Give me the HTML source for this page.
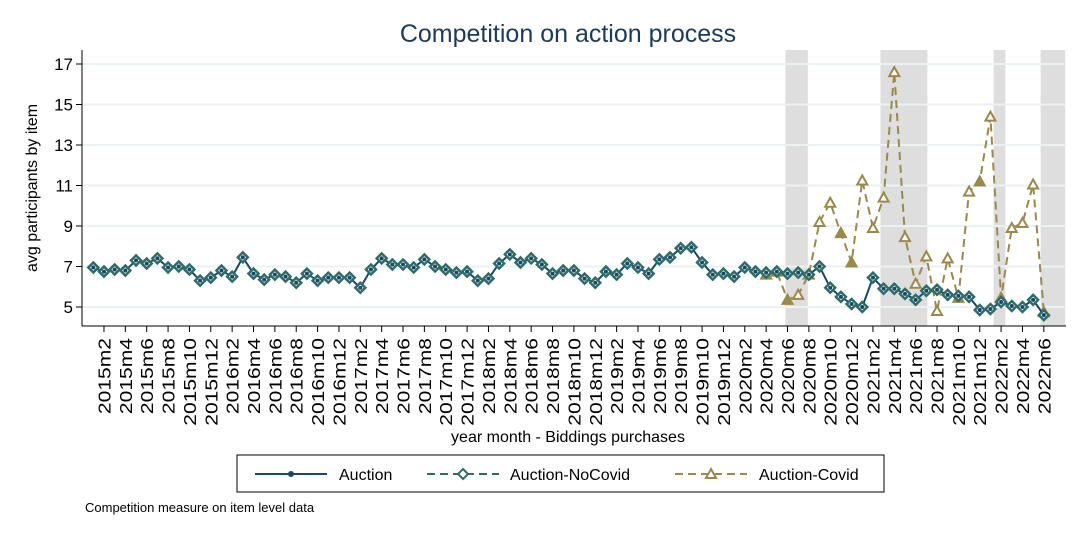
<!DOCTYPE html>
<html><head><meta charset="utf-8"><style>
body{margin:0;background:#fff;width:1074px;height:537px;overflow:hidden;font-family:"Liberation Sans",sans-serif}
</style></head><body>
<svg id="chart" width="1074" height="537" xmlns="http://www.w3.org/2000/svg" font-family="Liberation Sans, sans-serif">
<rect x="0" y="0" width="1074" height="537" fill="#fff"/>
<text x="568" y="42" font-size="25" text-anchor="middle" fill="#1a3a5f">Competition on action process</text>
<text transform="translate(37,188) rotate(-90)" font-size="16" text-anchor="middle">avg participants by item</text>
<text x="568" y="442" font-size="16" text-anchor="middle">year month - Biddings purchases</text>
<g id="shades"></g><g id="grid"></g><g id="axes"></g><g id="series"></g>
<g>
<rect x="237" y="455" width="647" height="37" fill="#fff" stroke="#000" stroke-width="1"/>
<g>
<line x1="255" y1="474" x2="327" y2="474" stroke="#1a476f" stroke-width="2"/><circle cx="291" cy="474" r="3" fill="#1a476f"/>
<text x="339" y="480" font-size="16">Auction</text></g>
<g>
<line x1="427" y1="474" x2="499" y2="474" stroke="#2d6d66" stroke-width="2" stroke-dasharray="8,5"/><path d="M463 469 L468 474 L463 479 L458 474Z" fill="#fff" stroke="#2d6d66" stroke-width="2"/>
<text x="510" y="480" font-size="16">Auction-NoCovid</text></g>
<g>
<line x1="675" y1="474" x2="747" y2="474" stroke="#9c8847" stroke-width="2" stroke-dasharray="8,5"/><path d="M711 469 L716 478 L706 478Z" fill="#fff" stroke="#9c8847" stroke-width="2"/>
<text x="759" y="480" font-size="16">Auction-Covid</text></g>
</g>
<text x="85" y="512" font-size="13">Competition measure on item level data</text>
</svg>
<script>
const auction=[6.95,6.75,6.85,6.8,7.3,7.15,7.4,6.95,7.0,6.85,6.3,6.45,6.8,6.5,7.45,
6.65,6.35,6.6,6.5,6.2,6.65,6.3,6.45,6.45,6.45,5.95,
6.85,7.4,7.1,7.1,6.95,7.35,7.0,6.85,6.7,6.75,6.3,6.4,7.15,7.6,
7.2,7.4,7.1,6.65,6.8,6.8,6.4,6.2,6.75,6.6,7.15,6.95,6.65,7.35,7.45,7.9,7.95,
7.2,6.6,6.65,6.5,6.95,6.75,6.7,
6.75,6.65,6.7,6.6,7.0,
5.95,5.5,5.15,5.0,6.45,
5.9,5.9,5.65,5.35,5.8,5.85,5.6,5.55,5.5,4.85,4.9,5.25,5.05,5.0,5.35,4.6];
const covidStart=63;
const covid=[6.6,6.75,5.35,5.6,6.6,9.2,10.15,8.65,7.2,11.25,8.9,10.4,16.6,8.45,6.15,7.5,4.8,7.4,5.45,10.7,11.2,14.4,5.45,8.9,9.15,11.05,4.75];
const covidFilled=[1,1,1,0,0,0,0,1,1,0,0,0,0,0,0,0,0,0,1,0,1,0,1,0,0,0,1];
const shadeStart=[64.8,73.7,84.3,88.7];
const shadeEnd=[66.9,78.1,85.4,91.0];
const yTicks=[5,7,9,11,13,15,17];
const NS="http://www.w3.org/2000/svg";
const X=m=>93.3+m*10.68, Y=v=>307-(v-5)*20.25;
function mk(p,t,a){const e=document.createElementNS(NS,t);for(const k in a)e.setAttribute(k,a[k]);p.appendChild(e);return e;}
const gS=document.getElementById('shades'),gG=document.getElementById('grid'),gA=document.getElementById('axes'),gSe=document.getElementById('series');
shadeStart.forEach((s,i)=>{const r=mk(gS,'rect',{x:X(s),y:50,width:X(shadeEnd[i])-X(s),height:276,fill:'#dedede'});

});
yTicks.forEach(v=>{const l=mk(gG,'line',{x1:82,x2:1066,y1:Y(v),y2:Y(v),stroke:'#eaf2f3','stroke-width':2});


mk(gA,'line',{x1:76,x2:82,y1:Y(v),y2:Y(v),stroke:'#000'});
const t=mk(gA,'text',{x:73,y:Y(v)+6,'font-size':17,'text-anchor':'end'});t.textContent=v;

});
mk(gA,'line',{x1:82,x2:82,y1:50,y2:326,stroke:'#000'});
mk(gA,'line',{x1:82,x2:1066,y1:326,y2:326,stroke:'#000'});
for(let m=1;m<auction.length;m+=2){const x=X(m);mk(gA,'line',{x1:x,x2:x,y1:326,y2:332,stroke:'#000'});
const lab=(2015+Math.floor(m/12))+'m'+(m%12+1);
const t=mk(gA,'text',{transform:`translate(${x+6.5},338) rotate(-90) scale(1.17,1)`,'font-size':18,'text-anchor':'end'});t.textContent=lab;

}
const cp=covid.map((v,i)=>X(covidStart+i)+','+Y(v)).join(' ');
const cl=mk(gSe,'polyline',{points:cp,fill:'none',stroke:'#9c8847','stroke-width':2,'stroke-dasharray':'8,5'});


covid.forEach((v,i)=>{const x=X(covidStart+i),y=Y(v);
const m=mk(gSe,'path',{d:`M${x} ${y-5} L${x+5} ${y+4} L${x-5} ${y+4}Z`,fill:covidFilled[i]?'#9c8847':'#fff',stroke:'#9c8847','stroke-width':2});

});
const ap=auction.map((v,i)=>X(i)+','+Y(v)).join(' ');
const al=mk(gSe,'polyline',{points:ap,fill:'none',stroke:'#1a476f','stroke-width':2});


auction.forEach((v,i)=>{const x=X(i),y=Y(v);
const d=mk(gSe,'path',{d:`M${x} ${y-5} L${x+5} ${y} L${x} ${y+5} L${x-5} ${y}Z`,fill:'#fff',stroke:'#2d6d66','stroke-width':2.5});


const c=mk(gSe,'circle',{cx:x,cy:y,r:2,fill:'#1a476f'});

});
</script>
</body></html>
